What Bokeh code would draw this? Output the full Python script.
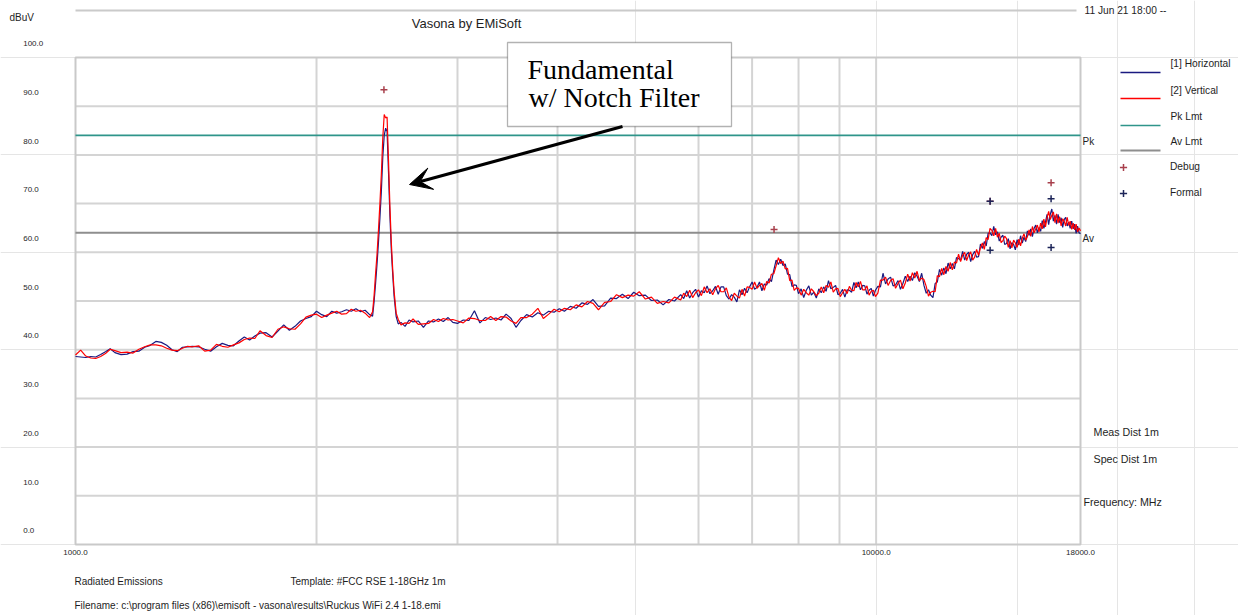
from bokeh.plotting import figure
from bokeh.models import (Label, Legend, LegendItem, BoxAnnotation, Arrow,
                          VeeHead, Range1d, LogScale, LinearScale)
from bokeh.core.properties import value
from bokeh.embed import file_html
from bokeh.resources import INLINE

# ---------------- data ----------------
freq_mhz = [
    1000, 1015, 1030, 1045, 1060, 1075, 1090, 1105, 1120,
    1140, 1160, 1180, 1200, 1220, 1240, 1260, 1280, 1300, 1320, 1340, 1360, 1380, 1400,
    1425, 1450, 1475, 1500, 1525, 1550, 1575, 1600, 1625, 1650, 1675, 1700,
    1730, 1760, 1790, 1820, 1850, 1880, 1910, 1940, 1970, 2000, 2030, 2060, 2090, 2120, 2150,
    2180, 2210, 2240, 2270, 2300, 2330,
    2350,
    2360, 2370, 2380, 2390, 2400, 2410, 2420, 2430, 2440, 2450, 2460, 2470, 2480, 2490, 2500,
    2515, 2530, 2550,
    2580, 2610, 2640,
    2680, 2720, 2760, 2800, 2840, 2880, 2920, 2960,
    3000, 3050, 3100, 3150, 3200, 3250, 3300, 3350, 3400, 3450, 3500, 3550, 3600,
    3660, 3720, 3780, 3840, 3900, 3960, 4020, 4080,
    4150, 4220, 4290, 4360, 4430, 4500,
    4580, 4660, 4740, 4820, 4900, 4980, 5060,
    5150, 5240, 5330, 5420, 5510, 5600,
    5700, 5750, 5800, 5850, 5900, 5950, 6000, 6050, 6100, 6150, 6200, 6250,
    6300, 6350, 6400, 6450, 6500, 6550, 6600, 6650, 6700, 6750, 6800, 6850,
    6900, 6950, 7000, 7050, 7100, 7150, 7200, 7250, 7300, 7350, 7400, 7450,
    7500, 7550, 7600, 7650, 7700, 7750, 7800, 7850, 7900, 7950, 8000,
    8060, 8120, 8180, 8240, 8300, 8360, 8420, 8480, 8540, 8600, 8660, 8720,
    8780, 8840, 8900, 8960, 9020, 9080, 9140, 9200, 9260, 9320, 9380, 9440,
    9500, 9560, 9620, 9680, 9740, 9800, 9860, 9920, 9980,
    10050, 10125, 10200, 10275, 10350, 10425, 10500, 10575, 10650, 10725,
    10800, 10875, 10950, 11025, 11100, 11175, 11250, 11325, 11400, 11475,
    11550, 11625, 11700, 11775, 11850, 11925, 12000, 12075, 12150, 12225,
    12300, 12375, 12450, 12525, 12600, 12675, 12750, 12825, 12900, 12975,
    13050, 13125, 13200, 13275, 13350, 13425, 13500, 13575, 13650, 13725,
    13800, 13875, 13950, 14025, 14100, 14175, 14250, 14325, 14400, 14475,
    14550, 14625, 14700, 14775, 14850, 14925, 15000, 15075, 15150, 15225,
    15300, 15375, 15450, 15525, 15600, 15675, 15750, 15825, 15900, 15975,
    16050, 16125, 16200, 16275, 16350, 16425, 16500, 16575, 16650, 16725,
    16800, 16875, 16950, 17025, 17100, 17175, 17250, 17325, 17400, 17475,
    17550, 17625, 17700, 17775, 17850, 17925, 18000,
]

horizontal_dbuv = [
    38.6, 38.5, 38.4, 38.6, 38.5, 39.0, 39.6, 40.2, 39.4,
    39.0, 39.1, 39.6, 39.7, 40.5, 40.9, 41.7, 41.5, 40.9, 40.0, 39.6, 40.5, 40.6, 40.7,
    40.6, 40.1, 39.7, 40.6, 41.3, 40.9, 40.8, 41.8, 42.6, 42.0, 42.8, 43.4,
    43.5, 42.6, 43.8, 45.1, 44.0, 44.8, 45.9, 46.4, 46.8, 47.9, 47.2, 46.8, 47.9, 47.5, 47.8,
    48.2, 47.9, 48.4, 47.8, 48.1, 47.2,
    46.9,
    49.8, 53.5, 57.5, 62.0, 67.0, 72.5, 79.5, 84.0, 85.5, 84.8, 76.5, 67.5, 60.5, 55.5, 51.0,
    46.8, 45.3, 45.6,
    44.8, 46.1, 45.7,
    45.9, 44.6, 45.9, 45.7, 46.3, 45.8, 46.6, 45.6,
    45.4, 46.1, 46.0, 48.0, 45.5, 46.6, 46.2, 46.5, 46.1, 47.3, 46.4, 44.6, 46.0,
    47.2, 46.7, 47.6, 47.1, 47.9, 47.7, 48.4, 47.9,
    48.9, 48.5, 49.6, 49.3, 50.3, 48.9,
    49.0, 50.6, 50.5, 51.4, 50.5, 51.8, 51.1,
    51.2, 50.1, 50.2, 49.2, 50.3, 50.0,
    51.3, 50.5, 52.1, 50.6, 51.7, 52.4, 50.8, 52.1, 51.7, 53.1, 51.5, 52.1,
    53.0, 51.4, 52.9, 52.9, 51.1, 50.4, 51.3, 50.8, 49.8, 52.3, 51.3, 52.6,
    51.7, 52.9, 53.9, 52.4, 52.8, 53.9, 52.1, 53.5, 53.3, 54.6, 54.0, 56.3,
    58.4, 57.5, 58.6, 57.3, 57.6, 55.5, 55.4, 53.0, 53.3, 53.2, 51.5,
    52.5, 50.7, 52.2, 53.1, 51.2, 51.8, 50.6, 52.5, 51.7, 52.9, 52.0, 54.2,
    52.5, 52.8, 53.2, 51.3, 51.6, 52.4, 50.8, 52.3, 52.2, 51.8, 53.8, 52.7,
    53.9, 52.3, 53.2, 53.1, 51.4, 52.2, 52.6, 51.0, 52.2,
    53.0, 52.9, 55.7, 53.5, 54.5, 54.9, 53.1, 53.3, 54.2, 52.4,
    53.6, 55.1, 54.0, 55.1, 54.2, 55.8, 55.1, 54.0, 55.7, 53.2,
    51.6, 52.3, 51.2, 50.7, 53.6, 53.9, 56.5, 55.3, 56.8, 55.6,
    57.8, 56.6, 57.7, 56.6, 58.9, 58.7, 58.4, 60.2, 58.4, 59.6,
    60.0, 58.1, 59.5, 60.2, 59.0, 59.1, 61.7, 60.8, 62.2, 61.3,
    63.9, 64.0, 63.4, 65.3, 63.6, 64.2, 62.3, 63.1, 63.5, 61.6,
    61.8, 62.8, 60.7, 62.0, 61.6, 60.5, 62.6, 61.5, 63.4, 61.9,
    63.1, 62.2, 64.4, 63.5, 64.8, 63.2, 64.9, 65.6, 64.0, 65.1,
    64.3, 66.5, 64.9, 66.2, 67.8, 65.7, 67.8, 68.9, 66.4, 67.6,
    65.8, 67.8, 66.1, 67.1, 65.1, 66.7, 67.2, 65.4, 66.2, 64.9,
    66.4, 64.8, 65.8, 63.9, 65.4, 64.0, 63.8,
]

vertical_dbuv = [
    38.9, 39.9, 38.7, 38.3, 38.2, 38.6, 39.2, 40.1, 39.8,
    39.4, 39.5, 39.3, 40.1, 40.6, 41.0, 41.0, 40.8, 40.3, 39.9, 39.8, 40.3, 40.7, 40.6,
    40.8, 39.7, 39.9, 41.1, 40.7, 40.5, 41.0, 41.4, 42.1, 42.4, 42.3, 43.9,
    42.9, 42.5, 44.2, 44.7, 44.3, 44.2, 45.3, 46.7, 47.1, 47.3, 46.6, 47.1, 47.5, 47.9, 47.3,
    47.4, 48.3, 47.9, 48.1, 47.5, 46.6,
    47.8,
    51.0, 55.5, 59.5, 64.5, 70.0, 76.0, 83.5, 88.3, 87.6, 87.8, 79.0, 69.5, 62.0, 56.5, 52.0,
    47.5, 46.2, 45.1,
    45.5, 45.4, 46.3,
    45.2, 45.3, 45.4, 46.2, 45.8, 46.4, 46.1, 46.2,
    45.9, 45.5, 46.5, 46.4, 46.0, 46.0, 46.8, 46.0, 46.8, 46.7, 45.9, 45.4, 46.6,
    46.6, 47.3, 48.5, 46.4, 47.3, 48.3, 47.8, 48.5,
    48.2, 49.2, 48.8, 49.9, 49.5, 48.2,
    49.7, 49.9, 51.3, 50.7, 51.2, 51.0, 51.9,
    50.4, 50.8, 49.5, 49.9, 49.6, 50.8,
    50.2, 51.6, 50.9, 52.2, 50.7, 51.7, 52.3, 51.1, 52.9, 51.7, 52.5, 51.3,
    52.5, 53.2, 51.9, 51.9, 52.7, 50.8, 50.1, 51.6, 51.0, 50.6, 52.4, 51.0,
    52.9, 52.8, 52.4, 53.9, 52.6, 53.2, 53.6, 52.2, 54.0, 53.7, 55.5, 55.6,
    57.2, 58.9, 57.7, 58.2, 56.6, 56.7, 54.2, 54.3, 52.2, 52.7, 52.6,
    51.2, 52.4, 51.7, 51.2, 52.5, 51.9, 51.1, 51.6, 52.9, 51.7, 53.2, 52.8,
    53.9, 51.8, 52.5, 52.6, 50.9, 51.7, 52.4, 51.5, 53.0, 52.2, 52.1, 53.8,
    52.9, 54.0, 52.3, 52.3, 53.1, 51.2, 52.0, 52.2, 50.9,
    51.6, 54.3, 54.3, 54.9, 53.2, 54.2, 54.6, 52.6, 53.6, 54.3,
    52.5, 53.7, 55.5, 54.1, 55.8, 54.7, 56.1, 54.2, 54.7, 54.4,
    53.0, 51.0, 51.8, 52.0, 51.9, 55.2, 55.0, 56.7, 55.4, 57.1,
    56.1, 57.9, 56.4, 58.0, 57.8, 59.6, 58.1, 59.4, 60.0, 58.3,
    59.5, 60.1, 58.4, 59.0, 60.6, 59.4, 60.9, 61.9, 60.6, 63.0,
    62.6, 64.9, 64.5, 63.4, 64.9, 63.1, 63.9, 62.0, 62.4, 63.3,
    62.8, 61.0, 62.4, 60.9, 62.5, 61.9, 61.0, 62.7, 61.3, 62.9,
    63.8, 62.5, 63.2, 64.6, 63.3, 65.3, 64.0, 64.8, 65.6, 64.2,
    66.0, 64.8, 66.8, 65.2, 67.1, 68.4, 66.7, 67.6, 68.3, 66.1,
    67.9, 66.0, 67.3, 65.4, 66.9, 66.4, 65.4, 67.2, 65.5, 66.4,
    64.7, 66.0, 64.6, 65.8, 64.2, 65.0, 64.4,
]

pk_limit_dbuv = 84.0
av_limit_dbuv = 64.0

debug_freq = [2428, 7456, 13880, 16540]
debug_dbuv = [93.4, 64.7, 70.5, 74.3]
formal_freq = [13880, 13880, 16540, 16540]
formal_dbuv = [70.5, 60.4, 71.0, 61.0]

y_ticks = [0, 10, 20, 30, 40, 50, 60, 70, 80, 90, 100]
x_ticks = [1000, 10000, 18000]
x_grid = [2000, 3000, 4000, 5000, 6000, 7000, 8000, 9000, 10000]

line_legend_labels = ["[1] Horizontal", "[2] Vertical", "Pk Lmt", "Av Lmt"]

assert len(freq_mhz) == len(horizontal_dbuv) == len(vertical_dbuv)

# ---------------- geometry: canvas pixels of the measurement area ----------------
W, H = 1238, 615
PL, PR, PT, PB = 75, 1080, 57, 544
X0, X1 = x_ticks[0], x_ticks[-1]
Y0, Y1 = y_ticks[0], y_ticks[-1]

def dx(px):   # canvas pixel -> MHz (log)
    return X0 * (X1 / X0) ** ((px - PL) / (PR - PL))

def dy(py):   # canvas pixel -> dBuV
    return Y0 + (Y1 - Y0) * (PB - py) / (PB - PT)

def py_of(v):  # dBuV -> canvas pixel
    return PB - (v - Y0) * (PB - PT) / (Y1 - Y0)

FONT = "Liberation Sans"
TXT = "#1e1e1e"
GRID = "#d4d4d4"
C_H, C_V, C_PK, C_AV = "#1a1a80", "#ff0000", "#2f958a", "#8e8e8e"
C_DBG, C_FRM = "#a8404c", "#1c2458"

p = figure(width=W, height=H, x_axis_type="log",
           x_range=Range1d(dx(0), dx(W)), y_range=Range1d(dy(H), dy(0)),
           x_axis_location=None, y_axis_location=None, title=None,
           min_border=0, min_border_left=0, min_border_right=0,
           min_border_top=0, min_border_bottom=0,
           output_backend="svg", toolbar_location=None)
p.x_scale = LogScale()
p.y_scale = LinearScale()
p.outline_line_color = None
p.background_fill_color = "white"
p.border_fill_color = "white"

# grid + frame of the measurement area
p.segment(x0=x_grid, y0=[Y0] * len(x_grid), x1=x_grid, y1=[Y1] * len(x_grid),
          line_color=GRID, line_width=2)
inner = y_ticks[1:-1]
p.segment(x0=[X0] * len(inner), y0=inner, x1=[X1] * len(inner), y1=inner,
          line_color=GRID, line_width=2)
p.quad(left=[X0], right=[X1], bottom=[Y0], top=[Y1], fill_color=None,
       line_color="#c9c9c9", line_width=2)

# tick labels
p.text(x=[dx(22.7)] * len(y_ticks), y=[dy(py_of(v) - 13.8) for v in y_ticks],
       text=[f"{v:.1f}" for v in y_ticks], text_align="left", text_baseline="middle",
       text_font=value(FONT), text_font_size="8px", text_color=TXT)
p.text(x=x_ticks, y=[dy(551.7)] * len(x_ticks), text=[f"{v:.1f}" for v in x_ticks],
       text_align="center", text_baseline="middle",
       text_font=value(FONT), text_font_size="8px", text_color=TXT)

# limits and traces
r_pk = p.line([X0, X1], [pk_limit_dbuv, pk_limit_dbuv], line_color=C_PK, line_width=1.6)
r_av = p.line([X0, X1], [av_limit_dbuv, av_limit_dbuv], line_color=C_AV, line_width=2)
r_h = p.line(freq_mhz, horizontal_dbuv, line_color=C_H, line_width=1.2)
r_v = p.line(freq_mhz, vertical_dbuv, line_color=C_V, line_width=1.2)
r_dbg = p.scatter(debug_freq, debug_dbuv, marker="cross", size=7, line_width=1.5,
                  line_color=C_DBG)
r_frm = p.scatter(formal_freq, formal_dbuv, marker="cross", size=7, line_width=1.5,
                  line_color=C_FRM)

# key for the four lines: sample stroke sits below its caption, as in the reference
key_line_y = [72, 98, 125, 150]
key_text_y = [63, 89.5, 116, 141]
p.segment(x0=[dx(1120)] * 4, y0=[dy(v) for v in key_line_y],
          x1=[dx(1160)] * 4, y1=[dy(v) for v in key_line_y],
          line_color=[C_H, C_V, C_PK, C_AV], line_width=[1.6, 1.6, 1.6, 2])
p.text(x=[dx(1170)] * 4, y=[dy(v) for v in key_text_y], text=line_legend_labels,
       text_align="left", text_baseline="middle", text_font=value(FONT),
       text_font_size="10.2px", text_color=TXT)

# key for the markers (bokeh legend; location = bottom-left corner from canvas bottom)
leg2 = Legend(items=[LegendItem(label="Debug", renderers=[r_dbg]),
                     LegendItem(label="Formal", renderers=[r_frm])],
              location=(1114, H - (156.7 + 46)),
              glyph_width=18, glyph_height=20, label_height=20, spacing=6,
              padding=0, margin=0, label_standoff=38,
              border_line_color=None, background_fill_alpha=0,
              label_text_font=FONT, label_text_font_size="10.2px", label_text_color=TXT)
p.add_layout(leg2)

def lab(text, px, py, size, align="left", font=FONT, color=TXT):
    p.add_layout(Label(x=dx(px), y=dy(py), text=text, text_align=align,
                       text_baseline="middle", text_font=font, text_font_size=size,
                       text_color=color))

# header
p.add_layout(BoxAnnotation(left=dx(75), right=dx(1076), top=dy(9), bottom=dy(11),
                           fill_color="#cacaca", fill_alpha=1, line_color=None))
lab("11 Jun 21 18:00 --", 1084, 9.5, "10.2px")
lab("dBuV", 9, 17.3, "10px")
lab("Vasona by EMiSoft", 466, 22.5, "13px", align="center")

# right side notes
lab("Pk", 1082, 141, "10px")
lab("Av", 1082, 238, "10px")
lab("Meas Dist 1m", 1093, 431.7, "10.7px")
lab("Spec Dist 1m", 1093, 458, "10.7px")
lab("Frequency: MHz", 1083, 501.7, "10.7px")

# footer
lab("Radiated Emissions", 74, 581, "10px")
lab("Template: #FCC RSE 1-18GHz 1m", 290, 581, "10px")
lab("Filename: c:\\program files (x86)\\emisoft - vasona\\results\\Ruckus WiFi 2.4 1-18.emi",
    74, 605, "10px")

# callout
p.add_layout(BoxAnnotation(left=dx(507), right=dx(731), top=dy(42), bottom=dy(126),
                           fill_color="white", fill_alpha=1, line_color="black",
                           line_width=1.3))
lab("Fundamental", 527, 69, "28px", font="Liberation Serif", color="black")
lab("w/ Notch Filter", 528, 97, "28px", font="Liberation Serif", color="black")
p.add_layout(Arrow(x_start=dx(622), y_start=dy(126), x_end=dx(409), y_end=dy(184),
                   line_color="black", line_width=3,
                   end=VeeHead(size=22, fill_color="black", line_color="black")))

open("out.html", "w").write(file_html(p, INLINE))
